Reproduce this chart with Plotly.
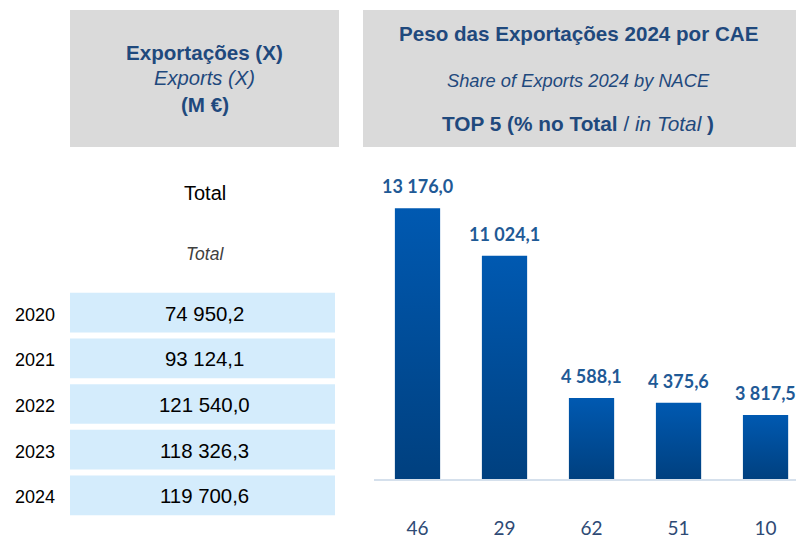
import plotly.graph_objects as go

# Exports total by year (M €)
years = ["2020", "2021", "2022", "2023", "2024"]
totals = [74950.2, 93124.1, 121540.0, 118326.3, 119700.6]

# Top 5 NACE divisions, exports 2024 (M €)
nace_codes = ["46", "29", "62", "51", "10"]
nace_values = [13176.0, 11024.1, 4588.1, 4375.6, 3817.5]

W, H = 796, 539
Y_FLOOR = 900          # value axis starts above zero
Y_TOP = 15420
BAR_HALF = 0.26

HEADER_BLUE = "#1f497d"
LABEL_BLUE = "#1f5a96"
TICK_BLUE = "#2e4a75"
GREY_BOX = "#dadada"
ROW_BOX = "#d4ecfc"


def fmt(v):
    return f"{v:,.1f}".replace(",", " ").replace(".", ",")


def px(x):
    return x / W


def py(y):
    return 1 - y / H


fig = go.Figure()

# Gradient-filled bars
for i, v in enumerate(nace_values):
    x0, x1 = i - BAR_HALF, i + BAR_HALF
    fig.add_trace(go.Scatter(
        x=[x0, x1, x1, x0, x0],
        y=[Y_FLOOR, Y_FLOOR, v, v, Y_FLOOR],
        mode="lines",
        line=dict(width=0),
        fill="toself",
        fillgradient=dict(
            type="vertical",
            colorscale=[[0, "#00407f"], [1, "#0059b1"]],
        ),
        hoverinfo="skip",
        showlegend=False,
    ))

shapes = []
annotations = []

# Value labels above bars
for i, v in enumerate(nace_values):
    annotations.append(dict(
        text=f"<b>{fmt(v)}</b>", x=i, y=v, xref="x", yref="y",
        showarrow=False, xanchor="center", yanchor="middle", yshift=22,
        font=dict(family="Lato", size=18, color=LABEL_BLUE),
    ))

# Grey header boxes
shapes.append(dict(type="rect", xref="paper", yref="paper",
                   x0=px(70), x1=px(339), y0=py(148), y1=py(10),
                   fillcolor=GREY_BOX, line=dict(width=0), layer="below"))
shapes.append(dict(type="rect", xref="paper", yref="paper",
                   x0=px(363), x1=px(796), y0=py(148), y1=py(10),
                   fillcolor=GREY_BOX, line=dict(width=0), layer="below"))

hdr = dict(family="Liberation Sans, Arial", color=HEADER_BLUE)


def add_text(text, x, y, size, color=None, family=None, xanchor="center"):
    f = dict(hdr)
    f["size"] = size
    if color:
        f["color"] = color
    if family:
        f["family"] = family
    annotations.append(dict(text=text, x=px(x), y=py(y), xref="paper", yref="paper",
                            showarrow=False, xanchor=xanchor, yanchor="middle",
                            font=f))


# Left header
add_text("<b>Exportações (X)</b>", 205, 53, 20.6)
add_text("<i>Exports (X)</i>", 205, 79, 20.2)
add_text("<b>(M €)</b>", 205, 105, 20.6)

# Right header
add_text("<b>Peso das Exportações 2024 por CAE</b>", 578, 34, 20.6)
add_text("<i>Share of Exports 2024 by NACE</i>", 578, 81, 18.3)
add_text("<b>TOP 5 (% no Total </b>/<i> in Total </i><b>)</b>", 578, 124, 20.8)

# Left table
add_text("Total", 205, 194, 20, color="#000000")
add_text("<i>Total</i>", 205, 256, 17.5, color="#404040")

for i, (yr, val) in enumerate(zip(years, totals)):
    cy = 315 + 46 * i
    shapes.append(dict(type="rect", xref="paper", yref="paper",
                       x0=px(70), x1=px(335), y0=py(cy + 20), y1=py(cy - 20),
                       fillcolor=ROW_BOX, line=dict(width=0), layer="below"))
    add_text(yr, 35, cy + 2, 18, color="#000000")
    add_text(fmt(val), 205, cy + 1, 20.4, color="#000000")

fig.update_layout(
    width=W, height=H,
    margin=dict(l=0, r=0, t=0, b=0),
    paper_bgcolor="white",
    plot_bgcolor="white",
    shapes=shapes,
    annotations=annotations,
    xaxis=dict(
        domain=[px(374), 1],
        range=[-0.5, 4.35],
        tickmode="array",
        tickvals=list(range(len(nace_codes))),
        ticktext=nace_codes,
        tickfont=dict(family="Lato", size=19, color=TICK_BLUE),
        ticks="",
        ticklabelstandoff=31,
        showgrid=False,
        zeroline=False,
        showline=True,
        linecolor="#d5e0ec",
        linewidth=2,
        fixedrange=True,
    ),
    yaxis=dict(
        domain=[py(483), py(160)],
        range=[Y_FLOOR, Y_TOP],
        visible=False,
        showgrid=False,
        zeroline=False,
        fixedrange=True,
    ),
    showlegend=False,
)

fig.write_html("out.html")
